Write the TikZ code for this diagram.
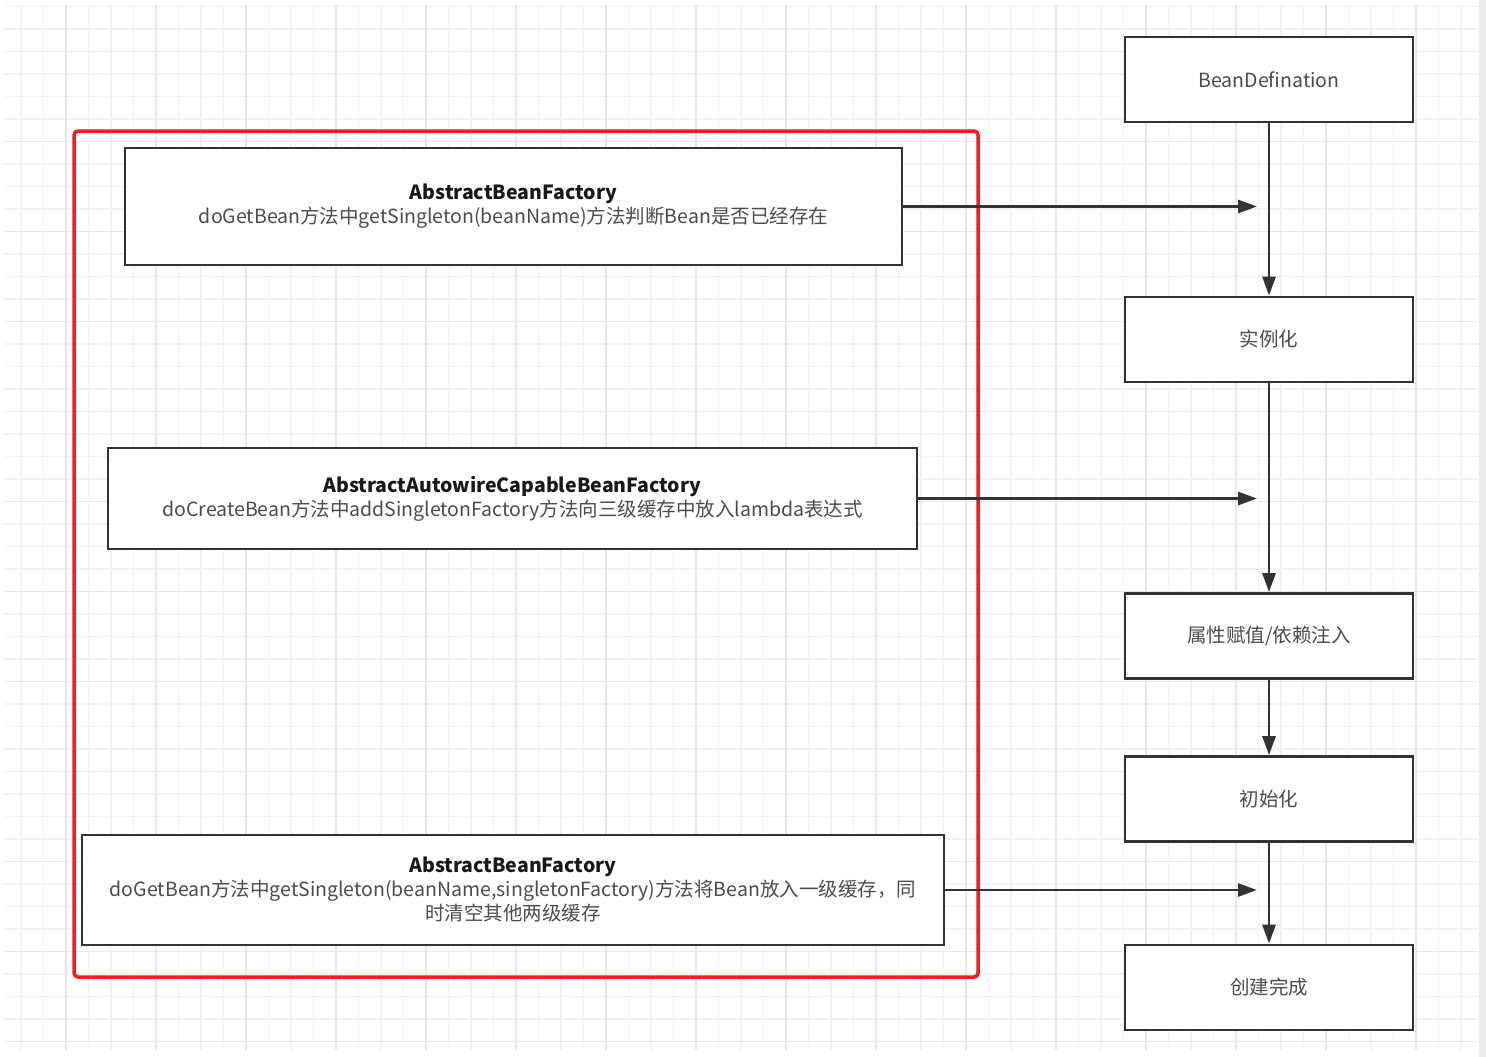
\documentclass[tikz,border=0pt]{standalone}
\usepackage{fontspec}
\setmainfont{Noto Sans CJK SC}
\usepackage{tikz}
\usetikzlibrary{arrows.meta}
\definecolor{framered}{RGB}{240,32,32}

\begin{document}
\begin{tikzpicture} [x=1pt,y=-1pt,
  box/.style={draw=black!80,fill=white,line width=2.8pt,inner sep=0pt,align=center,
    text=black!70,font=\fontsize{19.5}{24}\selectfont},
  stepbox/.style={box,minimum width=288pt,minimum height=85pt},
  flow/.style={draw=black!80,line width=2.8pt,-{Triangle[length=19pt,width=13pt]}},
  minorline/.style={draw=black!5,line width=1.2pt},
  majorline/.style={draw=black!9,line width=1.4pt},
  frame/.style={draw=framered,line width=3.5pt,rounded corners=4pt}]

\useasboundingbox (0,0) rectangle (1486,1057);
\fill[white] (0,0) rectangle (1486,1057);
\fill[black!7] (1479,0) rectangle (1486,1057);

% grid
\foreach \i in {0,...,64} \draw[minorline] ({21+22.5*\i},5) -- ({21+22.5*\i},1050);
\foreach \j in {0,...,46} \draw[minorline] (5,{6.5+22.5*\j}) -- (1478,{6.5+22.5*\j});
\foreach \i in {0,...,15} \draw[majorline] ({66+90*\i},5) -- ({66+90*\i},1050);
\foreach \j in {0,...,11} \draw[majorline] (5,{51.5+90*\j}) -- (1478,{51.5+90*\j});

% right column
\node[stepbox] (bd) at (1269,79.5) {BeanDefination};
\node[stepbox] (inst) at (1269,339.5) {实例化};
\node[stepbox] (prop) at (1269,636) {属性赋值/依赖注入};
\node[stepbox] (init) at (1269,799) {初始化};
\node[stepbox] (done) at (1269,987.5) {创建完成};

\draw[flow] (bd) -- (inst);
\draw[flow] (inst) -- (prop);
\draw[flow] (prop) -- (init);
\draw[flow] (init) -- (done);

% left column
\draw[frame] (74,131) rectangle (978,977);

\node[box,minimum width=777pt,minimum height=117pt] (get1) at (513.5,206.5)
  {{\color{black!90}\bfseries AbstractBeanFactory}\\doGetBean方法中getSingleton(beanName)方法判断Bean是否已经存在};
\node[box,minimum width=809pt,minimum height=101pt] (create) at (512.5,498.5)
  {{\color{black!90}\bfseries AbstractAutowireCapableBeanFactory}\\doCreateBean方法中addSingletonFactory方法向三级缓存中放入lambda表达式};
\node[box,minimum width=862pt,minimum height=110pt] (get2) at (513,890)
  {{\color{black!90}\bfseries AbstractBeanFactory}\\doGetBean方法中getSingleton(beanName,singletonFactory)方法将Bean放入一级缓存，同\\时清空其他两级缓存};

\coordinate (e1) at (1257,206.5);
\coordinate (e2) at (1257,498.5);
\coordinate (e3) at (1257,890);
\draw[flow] (get1) -- (e1);
\draw[flow] (create) -- (e2);
\draw[flow] (get2) -- (e3);

\end{tikzpicture}
\end{document}
